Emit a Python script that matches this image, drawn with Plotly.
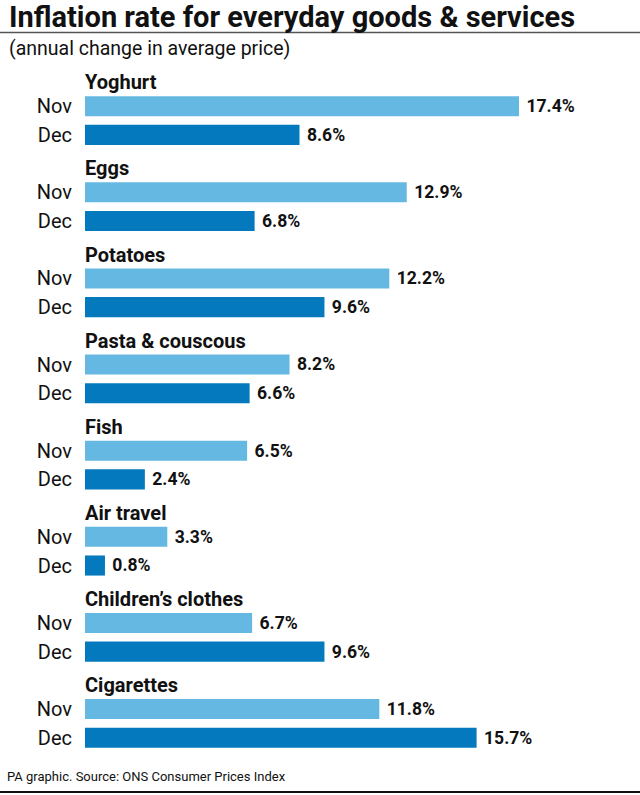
import plotly.graph_objects as go

categories = ["Yoghurt", "Eggs", "Potatoes", "Pasta & couscous", "Fish",
              "Air travel", "Children\u2019s clothes", "Cigarettes"]
nov_values = [17.4, 12.9, 12.2, 8.2, 6.5, 3.3, 6.7, 11.8]
dec_values = [8.6, 6.8, 9.6, 6.6, 2.4, 0.8, 9.6, 15.7]
month_labels = ["Nov", "Dec"]

W, H = 640, 795
ML, MR, MT, MB = 85, 15, 66, 40
FONT = "Roboto, Liberation Sans, sans-serif"
NOV_COLOR = "#64b8e1"
DEC_COLOR = "#0479bd"

nov_pos = [3 * i + 1 for i in range(len(categories))]
dec_pos = [3 * i + 2 for i in range(len(categories))]
label_pos = [3 * i + 0.17 for i in range(len(categories))]


def py(pix):
    """convert pixel y (from top) into paper coords"""
    return (H - MB - pix) / (H - MT - MB)


def px(pix):
    return (pix - ML) / (W - ML - MR)


fig = go.Figure()
for vals, pos, col, nm in [(nov_values, nov_pos, NOV_COLOR, "Nov"),
                           (dec_values, dec_pos, DEC_COLOR, "Dec")]:
    fig.add_trace(go.Bar(
        x=vals, y=pos, orientation="h", width=0.7,
        marker=dict(color=col, line=dict(width=0)),
        text=[f" {v:.1f}%" for v in vals], textposition="outside",
        textfont=dict(family=FONT, size=21, color="#111111", weight="bold"),
        cliponaxis=False, hoverinfo="skip", name=nm,
    ))

annotations = []
for cat, yp in zip(categories, label_pos):
    annotations.append(dict(
        x=0, y=yp, xref="x", yref="y", text=f"<b>{cat}</b>", showarrow=False,
        xanchor="left", yanchor="middle", xshift=-2,
        font=dict(family=FONT, size=20, color="#111111"),
    ))

annotations += [
    dict(x=px(7), y=py(17), xref="paper", yref="paper",
         text="<b>Inflation rate for everyday goods &amp; services</b>",
         showarrow=False, xanchor="left", yanchor="middle",
         font=dict(family=FONT, size=29, color="#111111")),
    dict(x=px(7), y=py(49), xref="paper", yref="paper",
         text="(annual change in average price)",
         showarrow=False, xanchor="left", yanchor="middle",
         font=dict(family=FONT, size=19.5, color="#111111")),
    dict(x=px(5), y=py(777), xref="paper", yref="paper",
         text="PA graphic. Source: ONS Consumer Prices Index",
         showarrow=False, xanchor="left", yanchor="middle",
         font=dict(family=FONT, size=13, color="#111111")),
]

shapes = [
    dict(type="line", xref="paper", yref="paper", x0=px(0), x1=px(W),
         y0=py(32.5), y1=py(32.5), line=dict(color="#555555", width=1.5)),
    dict(type="line", xref="paper", yref="paper", x0=px(0), x1=px(W),
         y0=py(792), y1=py(792), line=dict(color="#111111", width=2)),
]

fig.update_layout(
    width=W, height=H,
    margin=dict(l=ML, r=MR, t=MT, b=MB, autoexpand=False),
    paper_bgcolor="white", plot_bgcolor="white",
    showlegend=False, barmode="overlay",
    font=dict(family=FONT, color="#111111"),
    xaxis=dict(range=[0, 21.65], visible=False, fixedrange=True, automargin=False),
    yaxis=dict(range=[23.6, -0.4], tickmode="array",
               tickvals=nov_pos + dec_pos,
               ticktext=[month_labels[0]] * len(nov_pos) + [month_labels[1]] * len(dec_pos),
               tickfont=dict(family=FONT, size=20, color="#111111"),
               ticks="", showgrid=False, zeroline=False, showline=False,
               ticklabelstandoff=12, fixedrange=True, automargin=False),
    annotations=annotations, shapes=shapes,
)

fig.write_html("out.html", config={"displayModeBar": False},
               post_script="document.body.style.margin='0';document.body.style.overflow='hidden';")
